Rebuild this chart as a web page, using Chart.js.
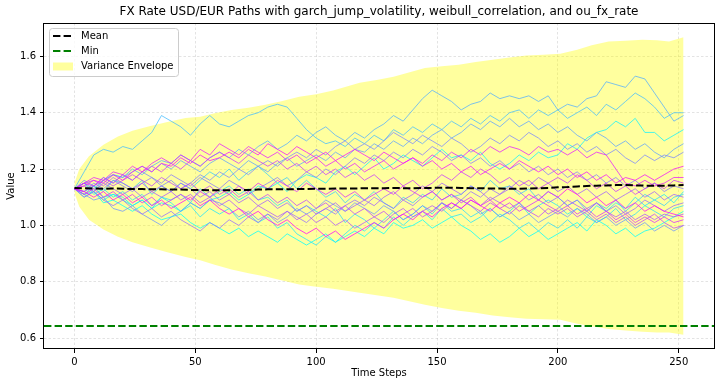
<!DOCTYPE html>
<html>
<head>
<meta charset="utf-8">
<script src="https://cdn.jsdelivr.net/npm/chart.js@4.4.1/dist/chart.umd.min.js"></script>
<style>
  html, body { margin: 0; padding: 0; background: #fff; }
  #wrap { width: 720px; height: 387px; }
</style>
</head>
<body>
<div id="wrap"><canvas id="fxChart" width="720" height="387"></canvas></div>
<script>
// Valeurs (pas de temps tous les 4)
const steps = [0,4,8,12,16,20,24,28,32,36,40,44,48,52,56,60,64,68,72,76,80,84,88,92,96,100,104,108,112,116,120,124,128,132,136,140,144,148,152,156,160,164,168,172,176,180,184,188,192,196,200,204,208,212,216,220,224,228,232,236,240,244,248,252];

const path00 = [1.13,1.11,1.12,1.08,1.09, 1.07,1.05,1.07,1.04,1.02, 1.03,1.04,1.01,0.99,1.01, 0.99,0.97,0.99,0.96,0.98, 0.96,0.94,0.97,0.95,0.93, 0.95,0.97,0.94,0.96,0.98, 0.96,0.99,0.97,1.01,0.99, 1.00,1.02,0.99,1.01,1.03, 1.00,0.98,0.95,0.97,0.94, 0.96,0.99,0.96,0.98,0.95, 0.97,0.99,1.01,0.98,1.02, 1.00,0.97,0.99,0.96,0.98, 0.99,1.01,1.03,1.05];
const path01 = [1.13,1.12,1.14,1.10,1.11, 1.09,1.07,1.09,1.06,1.08, 1.07,1.05,1.08,1.06,1.09, 1.10,1.12,1.09,1.11,1.14, 1.13,1.15,1.12,1.16,1.18, 1.17,1.15,1.19,1.21,1.18, 1.21,1.24,1.20,1.22,1.25, 1.23,1.21,1.24,1.27,1.24, 1.25,1.23,1.26,1.22,1.20, 1.22,1.25,1.23,1.26,1.24, 1.25,1.29,1.27,1.31,1.33, 1.34,1.37,1.35,1.38,1.33, 1.33,1.30,1.32,1.34];
const path02 = [1.13,1.10,1.12,1.09,1.11, 1.10,1.07,1.09,1.06,1.10, 1.08,1.05,1.07,1.03,1.06, 1.04,1.06,1.02,1.04,1.01, 1.03,0.99,1.01,0.97,0.95, 0.93,0.96,0.94,0.97,1.00, 0.98,1.01,0.99,1.03,1.00, 1.03,1.05,1.02,1.06,1.03, 1.04,1.01,1.03,1.06,1.03, 1.05,1.08,1.04,1.07,1.09, 1.07,1.04,1.06,1.03,1.07, 1.05,1.08,1.06,1.10,1.07, 1.09,1.11,1.08,1.12];
const path03 = [1.13,1.15,1.11,1.13,1.10, 1.12,1.09,1.11,1.07,1.10, 1.09,1.11,1.08,1.13,1.10, 1.12,1.14,1.11,1.13,1.09, 1.10,1.07,1.09,1.05,1.07, 1.05,1.03,1.06,1.01,1.04, 1.02,0.99,1.02,1.05,1.02, 1.04,1.07,1.04,1.08,1.05, 1.06,1.03,1.05,1.01,1.04, 1.02,0.99,1.01,0.98,1.01, 0.99,1.02,0.99,1.03,1.01, 1.03,1.06,1.02,1.04,1.07, 1.05,1.03,1.06,1.07];
const path04 = [1.13,1.11,1.14,1.12,1.16, 1.15,1.13,1.16,1.11,1.14, 1.12,1.15,1.13,1.16,1.19, 1.17,1.20,1.16,1.19,1.21, 1.18,1.15,1.17,1.13,1.16, 1.13,1.10,1.12,1.08,1.11, 1.09,1.12,1.08,1.06,1.10, 1.08,1.11,1.09,1.13,1.10, 1.11,1.14,1.12,1.16,1.13, 1.14,1.11,1.13,1.09,1.12, 1.10,1.07,1.09,1.05,1.08, 1.06,1.09,1.05,1.08,1.11, 1.09,1.07,1.10,1.11];
const path05 = [1.13,1.19,1.25,1.27,1.26, 1.28,1.27,1.30,1.33,1.39, 1.37,1.35,1.32,1.36,1.39, 1.36,1.35,1.37,1.39,1.40, 1.42,1.43,1.42,1.38,1.34, 1.31,1.29,1.30,1.28,1.31, 1.29,1.32,1.30,1.34,1.32, 1.35,1.33,1.36,1.34,1.37, 1.35,1.38,1.36,1.39,1.37, 1.40,1.41,1.38,1.41,1.39, 1.41,1.38,1.40,1.42,1.39, 1.43,1.41,1.44,1.47,1.45, 1.42,1.38,1.40,1.40];
const path06 = [1.13,1.15,1.12,1.16,1.18, 1.17,1.20,1.18,1.21,1.23, 1.22,1.25,1.23,1.21,1.24, 1.26,1.24,1.27,1.25,1.28, 1.30,1.27,1.29,1.32,1.30, 1.33,1.35,1.32,1.30,1.33, 1.31,1.34,1.36,1.39,1.37, 1.41,1.45,1.48,1.46,1.44, 1.41,1.43,1.44,1.47,1.45, 1.46,1.45,1.46,1.44,1.46, 1.41,1.43,1.42,1.45,1.46, 1.51,1.50,1.49,1.53,1.52, 1.47,1.42,1.37,1.39];
const path07 = [1.13,1.15,1.13,1.16,1.18, 1.17,1.19,1.21,1.19,1.22, 1.20,1.23,1.21,1.19,1.22, 1.24,1.22,1.20,1.23,1.21, 1.19,1.22,1.24,1.21,1.23, 1.25,1.23,1.26,1.24,1.27, 1.26,1.29,1.27,1.30,1.28, 1.31,1.29,1.32,1.34,1.31, 1.33,1.36,1.34,1.37,1.35, 1.38,1.35,1.37,1.34,1.36, 1.33,1.35,1.32,1.30,1.33, 1.31,1.28,1.30,1.27,1.29, 1.26,1.24,1.27,1.29];
const path08 = [1.13,1.11,1.09,1.10,1.06, 1.05,1.07,1.04,1.02,1.00, 1.03,1.05,1.08,1.06,1.09, 1.08,1.06,1.03,1.05,1.02, 1.04,1.01,1.03,1.06,1.04, 1.06,1.09,1.07,1.05,1.08, 1.06,1.04,1.07,1.05,1.02, 1.04,1.07,1.05,1.08,1.06, 1.09,1.07,1.04,1.06,1.03, 1.05,1.02,1.04,1.01,1.03, 1.05,1.03,1.06,1.04,1.01, 1.03,1.00,1.02,0.99,1.01, 0.98,1.00,0.98,1.00];
const path09 = [1.13,1.16,1.14,1.17,1.15, 1.18,1.16,1.19,1.17,1.14, 1.16,1.13,1.15,1.18,1.16, 1.19,1.17,1.20,1.18,1.21, 1.23,1.21,1.24,1.26,1.24, 1.27,1.25,1.28,1.30,1.27, 1.29,1.27,1.30,1.33,1.31, 1.29,1.32,1.30,1.28,1.31, 1.29,1.26,1.28,1.31,1.29, 1.32,1.30,1.33,1.31,1.28, 1.30,1.27,1.29,1.26,1.28, 1.25,1.27,1.24,1.22,1.25, 1.23,1.25,1.24,1.26];
const path10 = [1.13,1.12,1.15,1.13,1.16, 1.14,1.12,1.15,1.17,1.15, 1.18,1.16,1.14,1.17,1.15, 1.13,1.16,1.14,1.11,1.13, 1.15,1.17,1.14,1.16,1.19, 1.17,1.20,1.18,1.21,1.24, 1.22,1.25,1.23,1.26,1.24, 1.27,1.25,1.28,1.26,1.23, 1.25,1.22,1.24,1.21,1.23, 1.20,1.22,1.19,1.21,1.18, 1.20,1.17,1.19,1.16,1.18, 1.15,1.17,1.14,1.16,1.13, 1.15,1.12,1.14,1.13];
const path11 = [1.13,1.10,1.12,1.09,1.07, 1.09,1.06,1.04,1.06,1.03, 1.05,1.02,1.00,0.98,1.01, 0.99,1.02,1.00,1.03,1.01, 1.04,1.02,1.05,1.03,1.01, 1.04,1.06,1.04,1.07,1.09, 1.07,1.10,1.08,1.06,1.09, 1.07,1.10,1.12,1.09,1.11, 1.09,1.12,1.10,1.13,1.11, 1.14,1.12,1.09,1.11,1.08, 1.10,1.07,1.09,1.06,1.08, 1.05,1.07,1.04,1.06,1.09, 1.07,1.05,1.07,1.08];
const path12 = [1.13,1.14,1.12,1.15,1.13, 1.11,1.13,1.10,1.12,1.14, 1.12,1.15,1.13,1.10,1.12, 1.09,1.11,1.08,1.10,1.07, 1.09,1.06,1.08,1.05,1.07, 1.04,1.06,1.08,1.05,1.07, 1.09,1.07,1.10,1.12,1.09, 1.11,1.14,1.12,1.15,1.13, 1.11,1.14,1.12,1.09,1.11, 1.13,1.16,1.14,1.17,1.15, 1.12,1.14,1.11,1.13,1.10, 1.12,1.09,1.11,1.13,1.10, 1.12,1.09,1.11,1.10];
const path13 = [1.13,1.15,1.16,1.14,1.17, 1.15,1.13,1.15,1.12,1.10, 1.12,1.09,1.11,1.08,1.10, 1.07,1.09,1.06,1.04,1.07, 1.05,1.03,1.05,1.02,1.04, 1.01,1.03,1.00,1.02,0.99, 1.01,1.03,1.01,1.04,1.06, 1.03,1.05,1.07,1.05,1.08, 1.06,1.09,1.07,1.10,1.08, 1.06,1.08,1.05,1.07,1.04, 1.06,1.09,1.07,1.05,1.08, 1.05,1.03,1.05,1.02,1.04, 1.02,1.04,1.03,1.04];
const path14 = [1.13,1.12,1.14,1.16,1.14, 1.16,1.18,1.16,1.14,1.17, 1.15,1.13,1.15,1.12,1.14, 1.11,1.13,1.10,1.12,1.09, 1.11,1.08,1.10,1.07,1.09, 1.06,1.08,1.05,1.07,1.04, 1.06,1.03,1.05,1.02,1.04, 1.06,1.03,1.05,1.08,1.06, 1.09,1.07,1.05,1.08,1.06, 1.04,1.07,1.05,1.03,1.06, 1.04,1.06,1.03,1.05,1.02, 1.04,1.01,1.03,1.00,1.02, 1.04,1.01,0.99,1.00];
const path15 = [1.13,1.15,1.14,1.17,1.15, 1.18,1.16,1.19,1.21,1.19, 1.22,1.20,1.23,1.21,1.24, 1.26,1.24,1.22,1.25,1.23, 1.21,1.23,1.20,1.22,1.19, 1.21,1.18,1.20,1.17,1.19, 1.16,1.18,1.15,1.17,1.14, 1.16,1.13,1.15,1.18,1.16, 1.19,1.17,1.20,1.18,1.15, 1.17,1.14,1.16,1.13,1.15, 1.17,1.15,1.18,1.16,1.13, 1.15,1.12,1.14,1.11,1.13, 1.15,1.13,1.16,1.15];
const path16 = [1.13,1.11,1.13,1.10,1.12, 1.09,1.11,1.08,1.10,1.07, 1.09,1.11,1.09,1.12,1.10, 1.13,1.11,1.14,1.12,1.15, 1.13,1.16,1.14,1.12,1.15, 1.13,1.11,1.13,1.10,1.12, 1.09,1.11,1.13,1.11,1.14, 1.12,1.10,1.12,1.09,1.11, 1.08,1.10,1.07,1.09,1.06, 1.08,1.05,1.07,1.09,1.07, 1.05,1.07,1.04,1.06,1.03, 1.05,1.02,1.04,1.01,1.03, 1.01,1.03,1.01,1.02];
const path17 = [1.13,1.15,1.17,1.16,1.19, 1.18,1.21,1.19,1.22,1.24, 1.22,1.25,1.23,1.27,1.25, 1.29,1.27,1.25,1.28,1.26, 1.24,1.26,1.23,1.25,1.22, 1.24,1.21,1.23,1.20,1.22, 1.19,1.21,1.23,1.20,1.22, 1.24,1.22,1.25,1.23,1.26, 1.24,1.27,1.25,1.28,1.26, 1.28,1.27,1.25,1.28,1.26, 1.27,1.25,1.27,1.24,1.26, 1.25,1.20,1.15,1.14,1.16, 1.14,1.15,1.17,1.17];
const path18 = [1.13,1.14,1.16,1.15,1.18, 1.16,1.19,1.21,1.19,1.22, 1.21,1.24,1.22,1.25,1.23, 1.24,1.26,1.24,1.27,1.25, 1.29,1.27,1.25,1.28,1.26, 1.24,1.26,1.23,1.25,1.27, 1.25,1.23,1.26,1.24,1.22, 1.24,1.21,1.23,1.20,1.22, 1.19,1.21,1.18,1.20,1.22, 1.20,1.23,1.21,1.19,1.21, 1.18,1.20,1.17,1.19,1.16, 1.18,1.15,1.17,1.16,1.18, 1.16,1.18,1.20,1.21];
const path19 = [1.13,1.12,1.10,1.12,1.09, 1.11,1.08,1.10,1.07,1.09, 1.06,1.08,1.10,1.07,1.09, 1.06,1.04,1.06,1.03,1.05, 1.02,1.00,1.02,0.99,0.97, 0.99,0.96,0.98,0.95,0.97, 0.99,1.01,0.99,1.02,1.04, 1.02,1.05,1.03,1.06,1.08, 1.06,1.09,1.07,1.05,1.08, 1.10,1.08,1.11,1.09,1.12, 1.10,1.13,1.11,1.08,1.10, 1.07,1.09,1.06,1.08,1.05, 1.07,1.05,1.04,1.03];
const paths = [path00, path01, path02, path03, path04, path05, path06, path07, path08, path09,
               path10, path11, path12, path13, path14, path15, path16, path17, path18, path19];

const meanLine = [1.133,1.132,1.131,1.130,1.131, 1.130,1.129,1.129,1.128,1.128, 1.127,1.127,1.126,1.126,1.125, 1.125,1.125,1.126,1.126,1.127, 1.128,1.128,1.128,1.129,1.129, 1.130,1.130,1.131,1.131,1.131, 1.132,1.132,1.132,1.133,1.132, 1.132,1.133,1.133,1.134,1.134, 1.133,1.132,1.132,1.131,1.131, 1.130,1.130,1.131,1.132,1.133, 1.135,1.136,1.138,1.140,1.141, 1.142,1.143,1.143,1.142,1.141, 1.141,1.141,1.142,1.143];
const minLevel = 0.643;

// Enveloppe de variance
const envSteps = [0,2,6,12,18,24,31,38,46,52,58,65,72,79,86,93,100,107,118,125,132,145,152,159,166,173,180,187,194,201,208,214,221,228,235,241,246,252];
const envUpper = [1.150,1.200,1.245,1.286,1.316,1.336,1.352,1.366,1.381,1.386,1.398,1.410,1.418,1.428,1.442,1.457,1.466,1.479,1.506,1.516,1.528,1.559,1.565,1.570,1.580,1.588,1.596,1.603,1.606,1.609,1.624,1.640,1.653,1.656,1.659,1.657,1.653,1.668];
const envLower = [1.115,1.066,1.020,0.985,0.960,0.940,0.922,0.905,0.888,0.876,0.860,0.843,0.830,0.818,0.804,0.790,0.782,0.775,0.761,0.752,0.743,0.718,0.707,0.697,0.690,0.680,0.674,0.668,0.667,0.665,0.651,0.642,0.632,0.627,0.622,0.620,0.620,0.612];

const xTicks = [0, 50, 100, 150, 200, 250];
const yTicks = [0.6, 0.8, 1.0, 1.2, 1.4, 1.6];
const xRange = [-12.6, 264.6];
const yRange = [0.561, 1.7186];

const FONT = 'DejaVu Sans';
Chart.defaults.font.family = FONT;
Chart.defaults.font.size = 10;
Chart.defaults.color = '#000';

function coolColor(i, n, alpha) {
    const f = i / (n - 1);
    return `rgba(${Math.round(255 * f)}, ${Math.round(255 * (1 - f))}, 255, ${alpha})`;
}
const toXY = (xs, ys) => xs.map((x, k) => ({ x: x, y: ys[k] }));

const datasets = [];
// enveloppe (remplissage entre haut et bas)
datasets.push({
    label: 'Variance Envelope',
    data: toXY(envSteps, envUpper),
    borderWidth: 0,
    borderColor: 'transparent',
    backgroundColor: 'rgba(255, 255, 0, 0.38)',
    fill: '+1',
    pointRadius: 0,
    order: 40
});
datasets.push({
    label: 'envLower',
    data: toXY(envSteps, envLower),
    borderWidth: 0,
    borderColor: 'transparent',
    fill: false,
    pointRadius: 0,
    order: 41
});
paths.forEach((p, i) => {
    datasets.push({
        label: 'path' + i,
        data: toXY(steps, p),
        borderColor: coolColor(i, paths.length, 0.75),
        borderWidth: 1,
        fill: false,
        pointRadius: 0,
        order: 30 - i
    });
});
datasets.push({
    label: 'Mean',
    data: toXY(steps, meanLine),
    borderColor: '#000',
    borderWidth: 2,
    borderDash: [7.4, 3.2],
    fill: false,
    pointRadius: 0,
    order: 2
});
datasets.push({
    label: 'Min',
    data: toXY(xRange, [minLevel, minLevel]),
    borderColor: '#008000',
    borderWidth: 2,
    borderDash: [7.4, 3.2],
    fill: false,
    pointRadius: 0,
    order: 1
});

// Cadre, titre et légende dessinés à la main
const decorPlugin = {
    id: 'decor',
    afterDraw(chart) {
        const ctx = chart.ctx;
        const a = chart.chartArea;
        ctx.save();
        ctx.strokeStyle = '#000';
        ctx.lineWidth = 1;
        ctx.setLineDash([]);
        ctx.strokeRect(Math.round(a.left) - 0.5, Math.round(a.top) + 0.5,
                       Math.round(a.right - a.left) + 1, Math.round(a.bottom - a.top) - 1);

        // titre
        ctx.fillStyle = '#000';
        ctx.font = '12px "' + FONT + '"';
        ctx.textAlign = 'center';
        ctx.textBaseline = 'middle';
        ctx.fillText('FX Rate USD/EUR Paths with garch_jump_volatility, weibull_correlation, and ou_fx_rate',
                     (a.left + a.right) / 2, 12);

        // légende
        const bx = 49.5, by = 28.5, bw = 129, bh = 48;
        ctx.beginPath();
        ctx.roundRect(bx, by, bw, bh, 3);
        ctx.fillStyle = 'rgba(255,255,255,0.8)';
        ctx.fill();
        ctx.strokeStyle = '#cccccc';
        ctx.lineWidth = 1;
        ctx.stroke();

        ctx.lineWidth = 2;
        ctx.setLineDash([7.4, 3.2]);
        ctx.strokeStyle = '#000';
        ctx.beginPath(); ctx.moveTo(53, 36); ctx.lineTo(73, 36); ctx.stroke();
        ctx.strokeStyle = '#008000';
        ctx.beginPath(); ctx.moveTo(53, 51); ctx.lineTo(73, 51); ctx.stroke();
        ctx.setLineDash([]);
        ctx.fillStyle = 'rgba(255, 255, 0, 0.38)';
        ctx.fillRect(53, 62.5, 20, 8);

        ctx.fillStyle = '#000';
        ctx.font = '10px "' + FONT + '"';
        ctx.textAlign = 'left';
        ctx.fillText('Mean', 81, 36.5);
        ctx.fillText('Min', 81, 51.5);
        ctx.fillText('Variance Envelope', 81, 66.5);
        ctx.restore();
    }
};

const gridColor = 'rgba(160, 160, 160, 0.5)';

new Chart(document.getElementById('fxChart'), {
    type: 'line',
    data: { datasets: datasets },
    options: {
        responsive: false,
        animation: false,
        events: [],
        devicePixelRatio: 1,
        layout: { padding: { top: 23, right: 6, left: 0, bottom: 0 } },
        plugins: {
            legend: { display: false },
            tooltip: { enabled: false },
            title: { display: false }
        },
        scales: {
            x: {
                type: 'linear',
                min: xRange[0],
                max: xRange[1],
                afterBuildTicks: s => { s.ticks = xTicks.map(v => ({ value: v })); },
                afterFit: s => { s.height = 38; },
                ticks: { padding: 3, maxRotation: 0, autoSkip: false, color: '#000' },
                grid: { color: gridColor, lineWidth: 0.6, tickLength: 4, tickColor: '#000', tickWidth: 1, tickBorderDash: [] },
                border: { display: false, dash: [2.5, 2] },
                title: { display: true, text: 'Time Steps', color: '#000', font: { size: 10 }, padding: { top: 0, bottom: 8 } }
            },
            y: {
                type: 'linear',
                min: yRange[0],
                max: yRange[1],
                afterBuildTicks: s => { s.ticks = yTicks.map(v => ({ value: v })); },
                afterFit: s => { s.width = 44; },
                ticks: { padding: 4, color: '#000', callback: v => Number(v).toFixed(1) },
                grid: { color: gridColor, lineWidth: 0.6, tickLength: 4, tickColor: '#000', tickWidth: 1, tickBorderDash: [] },
                border: { display: false, dash: [2.5, 2] },
                title: { display: true, text: 'Value', color: '#000', font: { size: 10 }, padding: { top: 5, bottom: 0 } }
            }
        }
    },
    plugins: [decorPlugin]
});
</script>
</body>
</html>
